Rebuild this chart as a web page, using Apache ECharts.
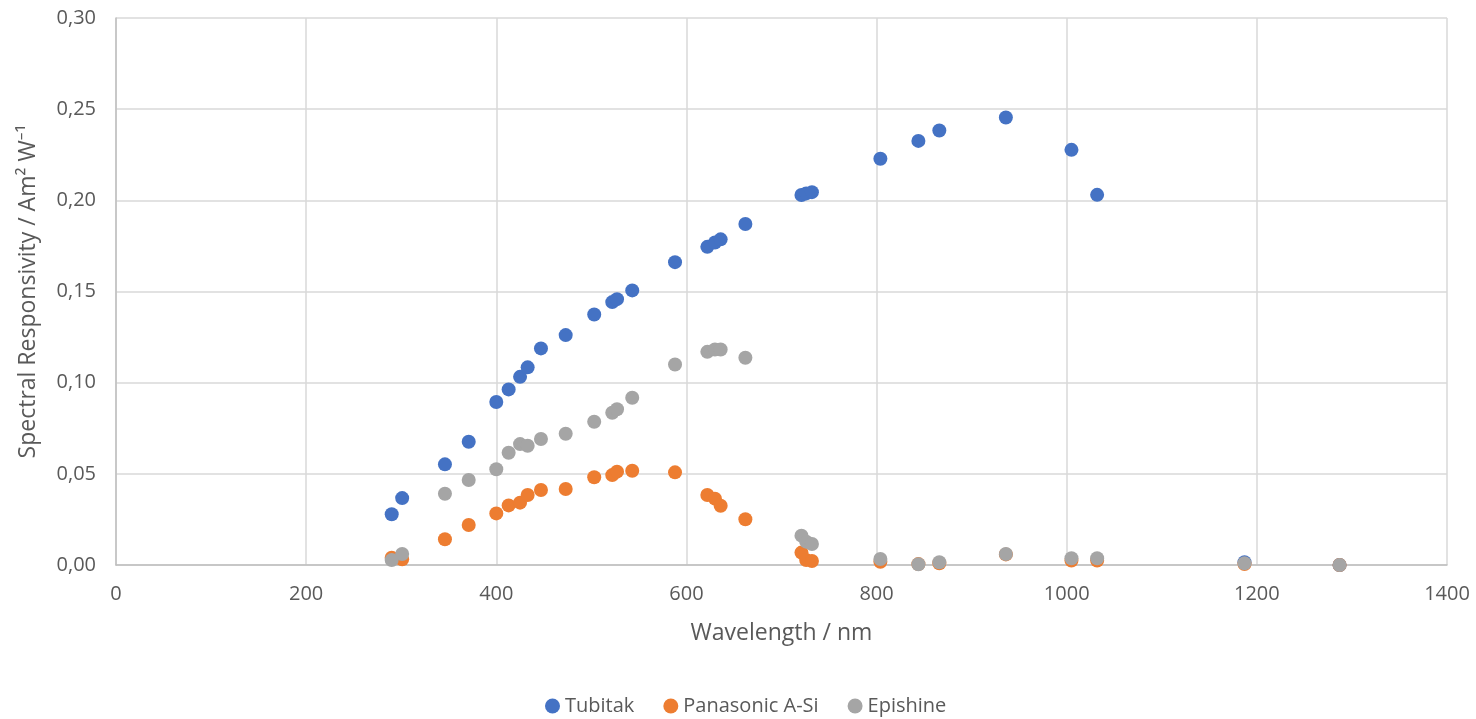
<!DOCTYPE html>
<html><head><meta charset="utf-8">
<script src="https://cdn.jsdelivr.net/npm/echarts@6/dist/echarts.min.js"></script>
<style>html,body{margin:0;padding:0;background:#fff}#c{width:1476px;height:719px}</style>
</head><body><div id="c"></div>
<script>
const wavelengths = [290, 301, 346, 371, 400, 413, 425, 433, 447, 473, 503, 522, 527, 543, 588, 622, 630, 636, 662, 721, 726, 732, 804, 844, 866, 936, 1005, 1032, 1187, 1287];
const tubitak   = [0.0278, 0.0367, 0.0552, 0.0676, 0.0894, 0.0963, 0.1032, 0.1084, 0.1188, 0.1261, 0.1374, 0.1442, 0.1458, 0.1506, 0.1661, 0.1745, 0.1769, 0.1786, 0.1870, 0.2029, 0.2038, 0.2045, 0.2228, 0.2326, 0.2383, 0.2454, 0.2277, 0.2030, 0.0015, 0.0];
const panasonic = [0.0040, 0.0031, 0.0141, 0.0219, 0.0283, 0.0327, 0.0342, 0.0384, 0.0411, 0.0417, 0.0481, 0.0493, 0.0512, 0.0517, 0.0508, 0.0384, 0.0364, 0.0325, 0.0251, 0.0068, 0.0027, 0.0022, 0.0018, 0.0005, 0.0010, 0.0058, 0.0025, 0.0025, 0.0005, 0.0];
const epishine  = [0.0027, 0.0060, 0.0391, 0.0466, 0.0525, 0.0616, 0.0663, 0.0654, 0.0691, 0.0720, 0.0786, 0.0835, 0.0854, 0.0917, 0.1100, 0.1169, 0.1182, 0.1182, 0.1137, 0.0161, 0.0128, 0.0115, 0.0033, 0.0004, 0.0015, 0.0060, 0.0037, 0.0037, 0.0010, 0.0];
const seriesNames = ['Tubitak', 'Panasonic A-Si', 'Epishine'];
const colors = ['#4472C4', '#ED7D31', '#A5A5A5'];

const pairs = arr => wavelengths.map((w, i) => [w, arr[i]]);
const font = '"Open Sans", "Noto Sans", sans-serif';
const chart = echarts.init(document.getElementById('c'));
chart.setOption({
  animation: false,
  color: colors,
  textStyle: { fontFamily: font },
  grid: { left: 116, right: 29, top: 18, bottom: 154 },
  legend: {
    top: 691, left: 540,
    itemWidth: 15, itemHeight: 15, itemGap: 29,
    icon: 'circle',
    textStyle: { color: '#595959', fontSize: 20, fontFamily: font },
    data: seriesNames
  },
  xAxis: {
    type: 'value', min: 0, max: 1400, interval: 200,
    name: 'Wavelength / nm', nameLocation: 'middle', nameGap: 57,
    nameTextStyle: { color: '#595959', fontSize: 23, fontFamily: font },
    axisLine: { show: true, lineStyle: { color: '#BFBFBF', width: 1.5 } },
    axisTick: { show: false },
    axisLabel: { color: '#595959', fontSize: 20, margin: 19, fontFamily: font,
      formatter: v => String(v) },
    splitLine: { show: true, lineStyle: { color: '#D9D9D9', width: 1.5 } }
  },
  yAxis: {
    type: 'value', min: 0, max: 0.30, interval: 0.05,
    name: 'Spectral Responsivity / Am² W⁻¹', nameLocation: 'middle', nameGap: 76,
    nameTextStyle: { color: '#595959', fontSize: 23, fontFamily: font },
    axisLine: { show: true, lineStyle: { color: '#BFBFBF', width: 1.5 } },
    axisTick: { show: false },
    axisLabel: { color: '#595959', fontSize: 20, margin: 20, fontFamily: font,
      formatter: v => v.toFixed(2).replace('.', ',') },
    splitLine: { show: true, lineStyle: { color: '#D9D9D9', width: 1.5 } }
  },
  series: [tubitak, panasonic, epishine].map((arr, k) => ({
    name: seriesNames[k], type: 'scatter', symbol: 'circle', symbolSize: 14,
    itemStyle: { color: colors[k], opacity: 1 },
    data: pairs(arr)
  }))
});
</script></body></html>
